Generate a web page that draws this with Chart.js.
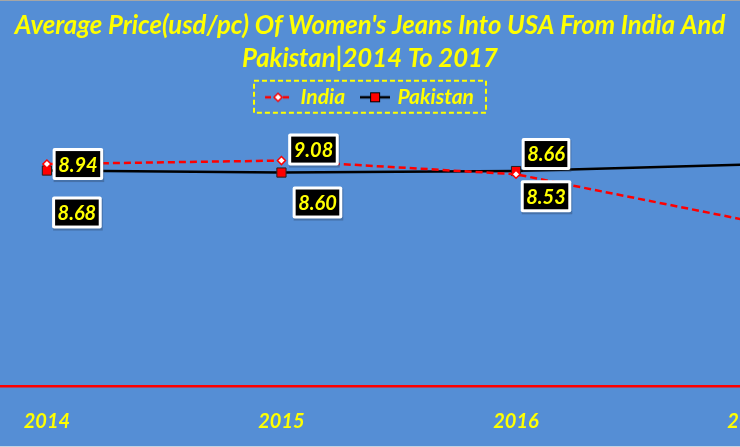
<!DOCTYPE html>
<html>
<head>
<meta charset="utf-8">
<script src="https://cdn.jsdelivr.net/npm/chart.js@4.4.1/dist/chart.umd.min.js"></script>
<style>
  html, body { margin: 0; padding: 0; background: #558ed5; }
  #wrap { width: 740px; height: 447px; position: relative; }
  #wrap::before, #wrap::after {
    content: ""; position: absolute; left: 0; right: 0; height: 1px; background: #a6a6a6;
  }
  #wrap::before { top: 0; }
  #wrap::after { bottom: 0; background: #c8d3e0; }
</style>
</head>
<body>
<div id="wrap"><canvas id="priceChart"></canvas></div>
<script>
// values (2017 is mostly outside the visible frame)
const years = [2014, 2015, 2016, 2017];
const indiaPrices = [8.94, 9.08, 8.53, 6.65];
const pakistanPrices = [8.68, 8.60, 8.66, 8.92];
const seriesNames = ["India", "Pakistan"];
const titleLines = [
  "Average Price(usd/pc) Of Women's Jeans Into USA From India And",
  "Pakistan|2014 To 2017",
];

const YELLOW = "#ffff00";
const FONT = "Lato";

// where each value box sits relative to its point (dx, dy)
const labelOffsets = [
  [[31, 0], [32, -11], [30, 22], [30, 22]],
  [[30, 42], [36, 30], [30, -17], [30, -17]],
];

function legendIcon(kind) {
  const c = document.createElement("canvas");
  c.width = 30;
  c.height = 12;
  const ctx = c.getContext("2d");
  ctx.lineWidth = 2.5;
  if (kind === "india") {
    ctx.strokeStyle = "#ff0000";
    ctx.setLineDash([6, 3]);
    ctx.beginPath();
    ctx.moveTo(2, 6);
    ctx.lineTo(28, 6);
    ctx.stroke();
    ctx.setLineDash([]);
    ctx.fillStyle = "#ffffff";
    ctx.lineWidth = 1.5;
    ctx.beginPath();
    ctx.moveTo(15, 2);
    ctx.lineTo(19, 6);
    ctx.lineTo(15, 10);
    ctx.lineTo(11, 6);
    ctx.closePath();
    ctx.fill();
    ctx.stroke();
  } else {
    ctx.strokeStyle = "#000000";
    ctx.beginPath();
    ctx.moveTo(0, 6);
    ctx.lineTo(30, 6);
    ctx.stroke();
    ctx.fillStyle = "#ff0000";
    ctx.lineWidth = 1;
    ctx.fillRect(10.5, 1.5, 9, 9);
    ctx.strokeRect(10.5, 1.5, 9, 9);
  }
  return c;
}
const legendIcons = [legendIcon("india"), legendIcon("pakistan")];

const valueBoxes = {
  id: "valueBoxes",
  afterDatasetsDraw(chart) {
    const ctx = chart.ctx;
    const area = chart.chartArea;
    ctx.save();
    ctx.font = `italic bold 20px ${FONT}`;
    ctx.textAlign = "center";
    ctx.textBaseline = "middle";
    chart.data.datasets.forEach((ds, d) => {
      const meta = chart.getDatasetMeta(d);
      meta.data.forEach((pt, i) => {
        if (pt.x > area.right) return;
        const [dx, dy] = labelOffsets[d][i];
        const cx = pt.x + dx;
        const cy = pt.y + dy;
        const text = ds.data[i].y.toFixed(2);
        const w = ctx.measureText(text).width + 5;
        const h = 26;
        ctx.fillStyle = "rgba(40, 60, 90, 0.35)";
        ctx.fillRect(cx - w / 2 - 2, cy - h / 2 - 1, w + 6, h + 6);
        ctx.fillStyle = "#ffffff";
        ctx.beginPath();
        ctx.roundRect(cx - w / 2 - 3, cy - h / 2 - 3, w + 6, h + 6, 2);
        ctx.fill();
        ctx.fillStyle = "#000000";
        ctx.fillRect(cx - w / 2, cy - h / 2, w, h);
        ctx.fillStyle = YELLOW;
        ctx.fillText(text, cx, cy + 1);
      });
    });
    ctx.restore();
  },
};

const legendFrame = {
  id: "legendFrame",
  afterDraw(chart) {
    const boxes = chart.legend && chart.legend.legendHitBoxes;
    if (!boxes || !boxes.length) return;
    const left = Math.min(...boxes.map((b) => b.left)) - 12;
    const right = Math.max(...boxes.map((b) => b.left + b.width)) + 12;
    const top = boxes[0].top - 6;
    const bottom = boxes[0].top + boxes[0].height + 5;
    const ctx = chart.ctx;
    ctx.save();
    ctx.strokeStyle = YELLOW;
    ctx.lineWidth = 2;
    ctx.setLineDash([5, 3]);
    ctx.strokeRect(left, top, right - left, bottom - top);
    ctx.restore();
  },
};

new Chart(document.getElementById("priceChart"), {
  type: "line",
  data: {
    datasets: [
      {
        label: seriesNames[0],
        data: years.map((yr, i) => ({ x: yr, y: indiaPrices[i] })),
        borderColor: "#ff0000",
        borderWidth: 2.5,
        borderDash: [7, 4],
        pointStyle: "rectRot",
        pointRadius: 4,
        pointBorderWidth: 1.5,
        pointBackgroundColor: "#ffffff",
        pointBorderColor: "#ff0000",
        tension: 0,
      },
      {
        label: seriesNames[1],
        data: years.map((yr, i) => ({ x: yr, y: pakistanPrices[i] })),
        borderColor: "#000000",
        borderWidth: 2.5,
        pointStyle: "rect",
        pointRadius: 6.5,
        pointBorderWidth: 1,
        pointBackgroundColor: "#ff0000",
        pointBorderColor: "#222222",
        tension: 0,
      },
    ],
  },
  options: {
    responsive: true,
    maintainAspectRatio: false,
    animation: false,
    layout: { autoPadding: false, padding: 0 },
    scales: {
      x: {
        type: "linear",
        min: 2013.8,
        max: 2016.955,
        grid: { display: false, drawTicks: false },
        border: { display: true, color: "#ff0000", width: 2.5 },
        ticks: {
          color: YELLOW,
          padding: 23,
          font: { family: FONT, size: 20, style: "italic", weight: "bold" },
          callback: (v) => String(v),
        },
        afterBuildTicks: (scale) => {
          scale.ticks = years.map((v) => ({ value: v }));
        },
        afterFit: (scale) => {
          scale.paddingLeft = 0;
          scale.paddingRight = 0;
          scale.height = 60.5;
        },
      },
      y: {
        display: false,
        min: 0,
        max: 10.8,
      },
    },
    plugins: {
      title: {
        display: true,
        text: titleLines,
        color: YELLOW,
        padding: { top: 9, bottom: -6 },
        font: { family: FONT, size: 25.7, style: "italic", weight: "bold", lineHeight: 1.28 },
      },
      legend: {
        display: true,
        labels: {
          color: YELLOW,
          usePointStyle: true,
          pointStyleWidth: 24,
          padding: 18,
          font: { family: FONT, size: 21, style: "italic", weight: "bold" },
          generateLabels: (chart) => {
            const items = Chart.defaults.plugins.legend.labels.generateLabels(chart);
            items.forEach((item, i) => {
              item.pointStyle = legendIcons[i];
              item.fontColor = YELLOW;
            });
            return items;
          },
        },
      },
      tooltip: { enabled: false },
    },
  },
  plugins: [valueBoxes, legendFrame],
});
</script>
</body>
</html>
